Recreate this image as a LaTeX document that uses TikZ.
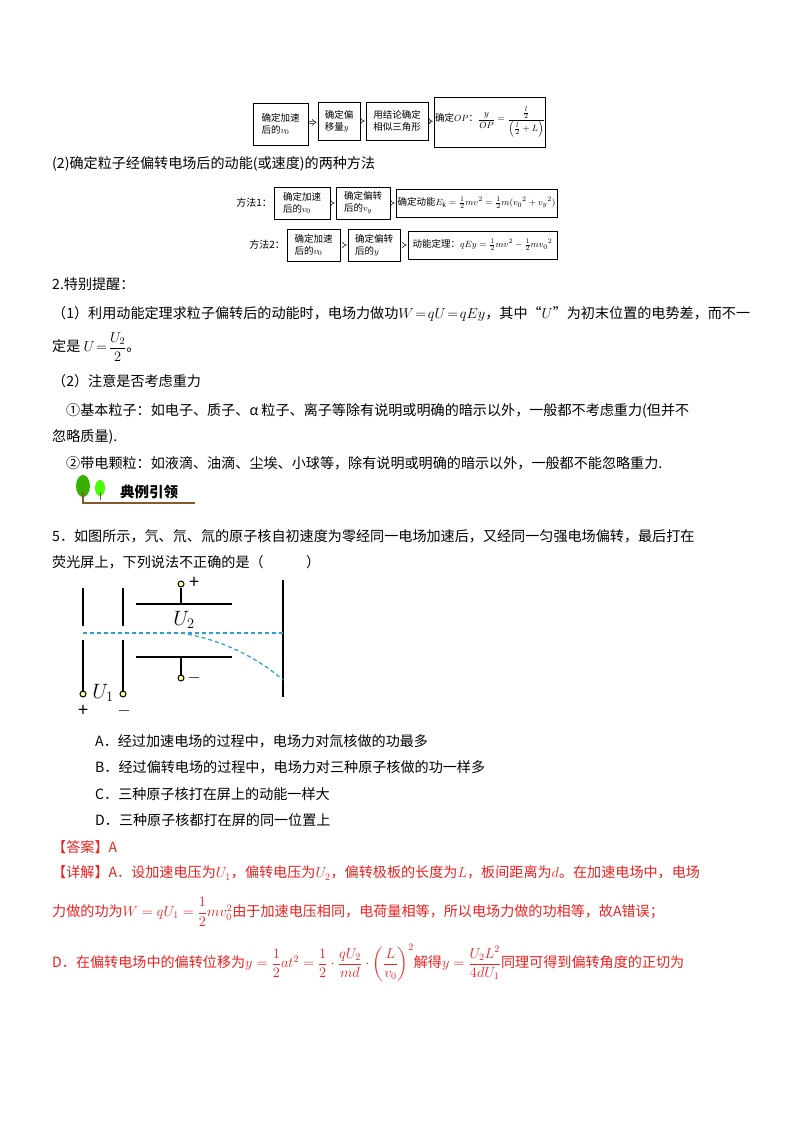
\documentclass[tikz,border=0pt]{standalone}
\usepackage{amsmath}
\usepackage{fontspec}
\usetikzlibrary{arrows.meta}
\setmainfont{Noto Sans CJK SC}
\newfontfamily\lat{Liberation Serif}
\definecolor{redtxt}{RGB}{238,32,32}
\definecolor{beam}{RGB}{40,160,210}
\begin{document}
\begin{tikzpicture}[x=1pt,y=-1pt,
  txt/.style={anchor=west,inner sep=0pt,font=\fontsize{14.1}{16}\selectfont},
  rtxt/.style={txt,text=redtxt},
  fb/.style={draw,line width=1pt,inner sep=1pt,font=\fontsize{9.5}{12}\selectfont,align=left},
  ar/.style={-{Implies},double,double distance=1.8pt,line width=0.5pt,shorten >=1pt,shorten <=1pt},
  plate/.style={line width=1.3pt},
  sgn/.style={font=\fontsize{18}{18}\selectfont,inner sep=0pt},
  term/.style={circle,draw,line width=1pt,fill=yellow!40,inner sep=0pt,minimum size=6pt}]
\useasboundingbox (0,0) rectangle (800,1132);
\fill[white] (0,0) rectangle (800,1132);
% top flow
\node[fb,minimum width=55pt,minimum height=42pt] (f1) at (280.5,124) {确定加速\\后的$v_0$};
\node[fb,minimum width=42pt,minimum height=38pt] (f2) at (339,121) {确定偏\\移量$y$};
\node[fb,minimum width=62pt,minimum height=38pt] (f3) at (397,121) {用结论确定\\相似三角形};
\node[fb,minimum width=110pt,minimum height=50pt] (f4) at (490,122) {确定$OP$：$\dfrac{y}{OP}=\dfrac{\frac{l}{2}}{\left(\frac{l}{2}+L\right)}$};
\draw[ar] (f1)--(f2); \draw[ar] (f2)--(f3); \draw[ar] (f3)--(f4);
\node[txt] (t1) at (52,164) {(2)确定粒子经偏转电场后的动能(或速度)的两种方法};
% method 1
\node[anchor=east,inner sep=0pt,font=\fontsize{10}{12}\selectfont] (m1) at (272,203) {方法1：};
\node[fb,minimum width=56pt,minimum height=32pt] (a1) at (302,203) {确定加速\\后的$v_0$};
\node[fb,minimum width=54pt,minimum height=32pt] (a2) at (363,203) {确定偏转\\后的$v_y$};
\node[fb,minimum width=161pt,minimum height=28pt] (a3) at (476.5,203) {确定动能$E_{\mathrm k}=\frac12mv^2=\frac12m(v_0{}^2+v_y{}^2)$};
\draw[ar] (a1)--(a2); \draw[ar] (a2)--(a3);
% method 2
\node[anchor=east,inner sep=0pt,font=\fontsize{10}{12}\selectfont] (m2) at (285,245) {方法2：};
\node[fb,minimum width=53pt,minimum height=32pt] (b1) at (313.5,245) {确定加速\\后的$v_0$};
\node[fb,minimum width=52pt,minimum height=32pt] (b2) at (374,245) {确定偏转\\后的$y$};
\node[fb,minimum width=149pt,minimum height=28pt] (b3) at (482.5,245) {动能定理：$qEy=\frac12mv^2-\frac12mv_0{}^2$};
\draw[ar] (b1)--(b2); \draw[ar] (b2)--(b3);
% text
\node[txt] (t2) at (52,284) {2.特别提醒：};
\node[txt] (t3) at (52,314) {（1）利用动能定理求粒子偏转后的动能时，电场力做功$W\!=\!qU\!=\!qEy$，其中“$U$”为初末位置的电势差，而不一};
\node[txt] (t4) at (52,347) {定是 $U\!=\!\dfrac{U_2}{2}$。};
\node[txt] (t5) at (52,381) {（2）注意是否考虑重力};
\node[txt] (t6) at (66,411) {①基本粒子：如电子、质子、α 粒子、离子等除有说明或明确的暗示以外，一般都不考虑重力(但并不};
\node[txt] (t7) at (52,437) {忽略质量).};
\node[txt] (t8) at (66,463) {②带电颗粒：如液滴、油滴、尘埃、小球等，除有说明或明确的暗示以外，一般都不能忽略重力.};
% header
\fill[green!55!black!70!lime] (83,486) ellipse (7pt and 11pt);
\fill[green!60!lime] (100,488) ellipse (5pt and 8pt);
\draw[brown!70!black,line width=1.2pt] (83,492)--(83,503)--(195,503);
\draw[brown!70!black,line width=1pt] (100,492)--(100,500);
\node[txt,font=\bfseries\fontsize{14.5}{16}\selectfont] (hd) at (120,492) {典例引领};
\node[txt] (q1) at (52,536) {5．如图所示，氕、氘、氚的原子核自初速度为零经同一电场加速后，又经同一匀强电场偏转，最后打在};
\node[txt] (q2) at (52,562) {荧光屏上，下列说法不正确的是（\hspace{3em}）};
% diagram
\draw[plate] (83,588)--(83,626) (83,640)--(83,691);
\draw[plate] (123,588)--(123,626) (123,640)--(123,691);
\draw[plate] (136,604)--(232,604); \draw[plate] (136,657)--(232,657);
\draw[plate] (283,580)--(283,697);
\node[term] (c1) at (83,694) {}; \node[term] (c2) at (123,694) {};
\node[term] (c3) at (181,584) {}; \node[term] (c4) at (181,678) {};
\draw[plate] (c3)--(181,604); \draw[plate] (c4)--(181,657);
\node[sgn] (pl) at (194,583) {+};
\node[sgn] (mi) at (194,678) {$-$};
\node[font=\fontsize{20}{20}\selectfont] (u2) at (184,620) {$U_2$};
\node[font=\fontsize{20}{20}\selectfont] (u1) at (103,693) {$U_1$};
\node[sgn] (p1) at (83,711) {+};
\node[sgn] (p2) at (124,711) {$-$};
\draw[beam,line width=1.2pt,dash pattern=on 4pt off 3pt] (83,633)--(283,633);
\draw[beam,line width=1.2pt,dash pattern=on 4pt off 3pt] (181,633) .. controls (225,640) and (260,660) .. (283,680);
% options
\node[txt] (oA) at (95,741) {A．经过加速电场的过程中，电场力对氚核做的功最多};
\node[txt] (oB) at (95,767) {B．经过偏转电场的过程中，电场力对三种原子核做的功一样多};
\node[txt] (oC) at (95,794) {C．三种原子核打在屏上的动能一样大};
\node[txt] (oD) at (95,820) {D．三种原子核都打在屏的同一位置上};
\node[rtxt] (ans) at (52,847) {【答案】A};
\node[rtxt] (d1) at (52,873) {【详解】A．设加速电压为$U_1$，偏转电压为$U_2$，偏转极板的长度为$L$，板间距离为$d$。在加速电场中，电场};
\node[rtxt] (d2) at (52,912) {力做的功为$W=qU_1=\dfrac12mv_0^2$由于加速电压相同，电荷量相等，所以电场力做的功相等，故A错误；};
\node[rtxt] (d3) at (52,963) {D．在偏转电场中的偏转位移为$y=\dfrac12at^2=\dfrac12\cdot\dfrac{qU_2}{md}\cdot\left(\dfrac{L}{v_0}\right)^2$解得$y=\dfrac{U_2L^2}{4dU_1}$同理可得到偏转角度的正切为};
\end{tikzpicture}
\end{document}
